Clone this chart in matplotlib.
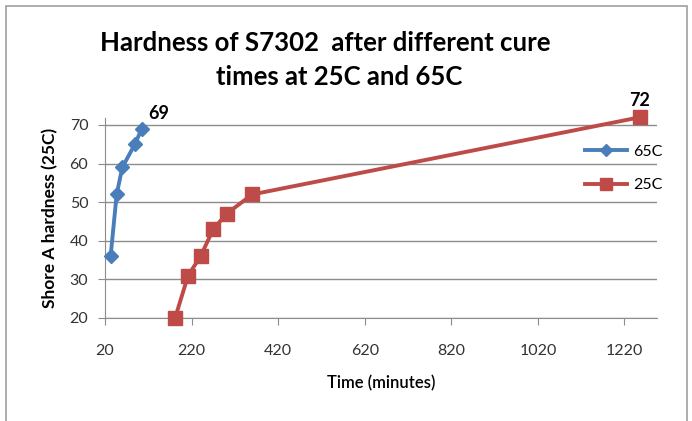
import matplotlib.pyplot as plt
from matplotlib.patches import Rectangle

plt.rcParams["font.family"] = ["Lato", "DejaVu Sans"]

# data
time_65c = [33, 47, 60, 89, 105]
hard_65c = [36, 52, 59, 65, 69]
time_25c = [182, 212, 241, 270, 301, 360, 1256]
hard_25c = [20, 31, 36, 43, 47, 52, 72]
x_ticks = [20, 220, 420, 620, 820, 1020, 1220]
y_ticks = [20, 30, 40, 50, 60, 70]

blue = "#4A7EBB"
red = "#BE4B48"
grid_col = "#8C8C8C"

fig = plt.figure(figsize=(6.92, 4.21), dpi=100)
ax = fig.add_axes([0.1517, 0.2447, 0.797, 0.475])

ax.plot(time_65c, hard_65c, color=blue, marker="D", markersize=7.5, linewidth=2.8,
        label="65C", zorder=3, clip_on=False)
ax.plot(time_25c, hard_25c, color=red, marker="s", markersize=10, linewidth=2.8,
        label="25C", zorder=3, clip_on=False)

ax.annotate(str(hard_65c[-1]), (time_65c[-1], hard_65c[-1]), xytext=(12, 5), textcoords="offset points",
            ha="center", va="bottom", fontsize=13, fontweight="bold", annotation_clip=False)
ax.annotate(str(hard_25c[-1]), (time_25c[-1], hard_25c[-1]), xytext=(0, 6), textcoords="offset points",
            ha="center", va="bottom", fontsize=13, fontweight="bold", annotation_clip=False)

ax.set_xlim(20, 1294)
ax.set_ylim(20, 71.8)
ax.set_xticks(x_ticks)
ax.set_yticks(y_ticks)
ax.yaxis.grid(True, color=grid_col, linewidth=1)
ax.set_axisbelow(True)
for side in ["top", "right"]:
    ax.spines[side].set_visible(False)
for side in ["left", "bottom"]:
    ax.spines[side].set_color(grid_col)
ax.tick_params(axis="both", colors=grid_col, labelcolor="#333333", labelsize=11.5, length=5, direction="out")
ax.tick_params(axis="x", pad=14)
ax.tick_params(axis="y", pad=7)

ax.set_xlabel("Time (minutes)", fontsize=12, fontweight="semibold", labelpad=12)
ax.set_ylabel("Shore A hardness (25C)", fontsize=12.5, fontweight="bold", labelpad=8)

fig.text(0.47, 0.897, "Hardness of S7302  after different cure", ha="center", va="center",
         fontsize=18.5, fontweight="bold")
fig.text(0.49, 0.817, "times at 25C and 65C", ha="center", va="center",
         fontsize=18.5, fontweight="bold")

ax.legend(loc="upper left", bbox_to_anchor=(0.825, 0.69), bbox_transform=fig.transFigure,
          frameon=False, fontsize=11.5, handlelength=2.6, labelspacing=1.2, markerscale=0.8,
          handletextpad=0.4)

fig.patches.append(Rectangle((0.008, -0.05), 0.985, 1.035, transform=fig.transFigure,
                             fill=False, edgecolor="#A0A0A0", linewidth=1.2))

fig.savefig("out.png", dpi=100)
